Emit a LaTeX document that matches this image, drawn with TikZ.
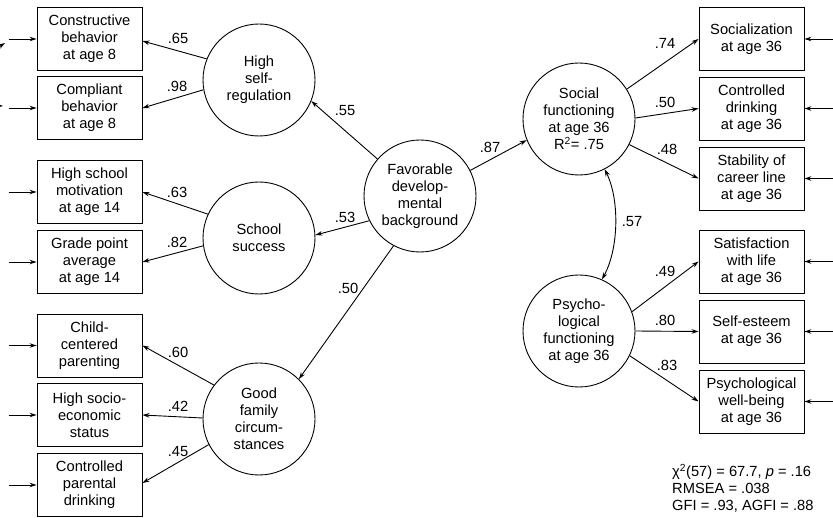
\documentclass[tikz,border=0pt]{standalone}
\usepackage{fontspec}
\setmainfont{Liberation Sans}
\usetikzlibrary{arrows.meta}
\begin{document}
\begin{tikzpicture}[x=1pt,y=-1pt,
  every node/.style={font=\fontsize{14.7}{17}\selectfont, align=center, inner sep=0pt},
  latent/.style={draw, circle, minimum size=112pt, line width=0.9pt},
  obs/.style={draw, rectangle, minimum width=105pt, minimum height=63pt, line width=0.9pt},
  path/.style={line width=0.9pt, -{Stealth[length=7pt,width=4.5pt]}},
  dpath/.style={line width=0.9pt, {Stealth[length=7pt,width=4.5pt]}-{Stealth[length=7pt,width=4.5pt]}},
  coef/.style={font=\fontsize{14.7}{17}\selectfont}
]
\clip (0,0) rectangle (833,518);
% latent variables
\node[latent] (hsr) at (259,80) {High\\self-\\regulation};
\node[latent] (ss) at (259,238) {School\\success};
\node[latent] (gfc) at (259,419) {Good\\family\\circum-\\stances};
\node[latent] (fdb) at (420,196) {Favorable\\develop-\\mental\\background};
\node[latent] (sf) at (579,119) {Social\\functioning\\at age 36\\R\textsuperscript{2}= .75};
\node[latent] (pf) at (579,331) {Psycho-\\logical\\functioning\\at age 36};
% left observed
\node[obs] (cb) at (89.5,39) {Constructive\\behavior\\at age 8};
\node[obs] (cpb) at (89.5,108) {Compliant\\behavior\\at age 8};
\node[obs] (hsm) at (89.5,192) {High school\\motivation\\at age 14};
\node[obs] (gpa) at (89.5,262) {Grade point\\average\\at age 14};
\node[obs] (ccp) at (89.5,345.5) {Child-\\centered\\parenting};
\node[obs] (hses) at (89.5,415) {High socio-\\economic\\status};
\node[obs] (cpd) at (89.5,485) {Controlled\\parental\\drinking};
% right observed
\node[obs] (soc) at (751.5,39) {Socialization\\at age 36};
\node[obs] (cd) at (751.5,108.5) {Controlled\\drinking\\at age 36};
\node[obs] (scl) at (751.5,178.5) {Stability of\\career line\\at age 36};
\node[obs] (swl) at (751.5,261.5) {Satisfaction\\with life\\at age 36};
\node[obs] (se) at (751.5,331.5) {Self-esteem\\at age 36};
\node[obs] (pwb) at (751.5,401.5) {Psychological\\well-being\\at age 36};
% error arrows
\foreach \b in {cb,cpb,hsm,gpa,ccp,hses,cpd}{
  \draw[path] ([xshift=-28pt]\b.west) -- (\b.west);
}
\foreach \b in {soc,cd,scl,swl,se,pwb}{
  \draw[path] ([xshift=30pt]\b.east) -- (\b.east);
}
% correlated errors (cut at left edge)
\coordinate (c1) at (5,43);
\coordinate (c2) at (3,106);
\draw[dpath] (c1) .. controls (-25,62) and (-30,104) .. (c2);
% loadings left
\draw[path] (hsr.158) -- ([yshift=-2pt]cb.east);
\draw[path] (hsr.190) -- (cpb.east);
\draw[path] (ss.155) -- (hsm.east);
\draw[path] (ss.188) -- (gpa.east);
\draw[path] (gfc.143) -- (ccp.east);
\draw[path] (gfc.179) -- (hses.east);
\draw[path] (gfc.207) -- ([yshift=2pt]cpd.east);
% structural
\draw[path] (fdb.139) -- (hsr.338);
\draw[path] (fdb.206) -- (ss.3);
\draw[path] (fdb.242) -- (gfc.45);
\draw[path] (fdb.27) -- (sf.202);
% loadings right
\draw[path] (sf.32) -- (soc.west);
\draw[path] (sf.1) -- (cd.west);
\draw[path] (sf.333) -- (scl.west);
\draw[path] (pf.20) -- (swl.west);
\draw[path] (pf.0) -- (se.west);
\draw[path] (pf.334) -- (pwb.west);
% correlation
\draw[dpath] (sf.297) .. controls +(15,30) and +(17,-31) .. (pf.66);
% coefficients
\node[coef] (l1) at (178,38) {.65};
\node[coef] (l2) at (177,86) {.98};
\node[coef] (l3) at (177,192) {.63};
\node[coef] (l4) at (177,242) {.82};
\node[coef] (l5) at (178,352) {.60};
\node[coef] (l6) at (178,406) {.42};
\node[coef] (l7) at (178,452) {.45};
\node[coef] (l8) at (345,111) {.55};
\node[coef] (l9) at (345,217) {.53};
\node[coef] (l10) at (348,288) {.50};
\node[coef] (l11) at (490,147) {.87};
\node[coef] (l12) at (665,43) {.74};
\node[coef] (l13) at (665,102) {.50};
\node[coef] (l14) at (667,149) {.48};
\node[coef] (l15) at (632,222) {.57};
\node[coef] (l16) at (665,271) {.49};
\node[coef] (l17) at (665,320) {.80};
\node[coef] (l18) at (667,365) {.83};
% fit statistics
\node[align=left, anchor=north west] (fit) at (672,464)
  {χ\textsuperscript{2}(57) = 67.7, \textit{p} = .16\\RMSEA = .038\\GFI = .93, AGFI = .88};
\end{tikzpicture}
\end{document}
